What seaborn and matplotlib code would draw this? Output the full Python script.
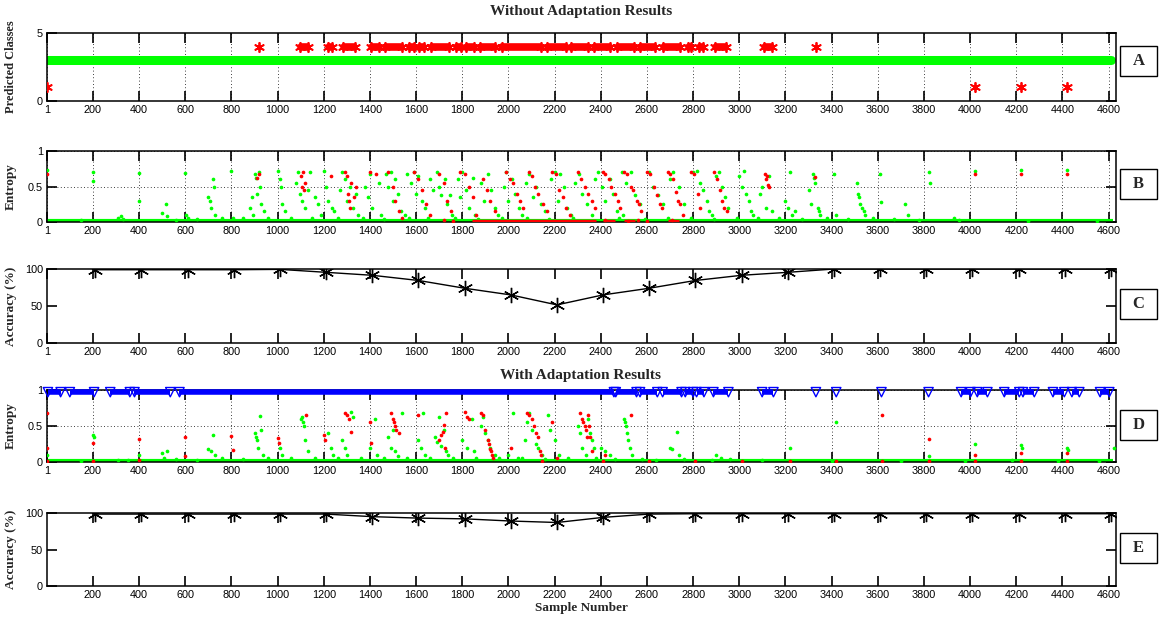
import numpy as np
import pandas as pd
import matplotlib
matplotlib.use('Agg')
import matplotlib.pyplot as plt
from matplotlib.patches import Rectangle
import seaborn as sns

sns.set_style('ticks')
plt.rcParams['font.family'] = ['Liberation Sans', 'DejaVu Sans']

GREEN = '#00ff00'
RED = '#ff0000'
BLUE = '#0000ff'
SERIF = ['Liberation Serif', 'DejaVu Serif']

# --- x axis ticks ---
xticks_top = [1, 200, 400, 600, 800, 1000, 1200, 1400, 1600, 1800, 2000, 2200, 2400,
              2600, 2800, 3000, 3200, 3400, 3600, 3800, 4000, 4200, 4400, 4600]
xticks_e = xticks_top[1:]

# --- A: predicted classes (runs = consecutive samples) ---
a_green_runs = [(1, 4612)]          # class 3
a_red_runs = [(1091, 1139), (1211, 1244), (1274, 1344), (1397, 1447), (1457, 1547),
              (1563, 1601), (1606, 1643), (1656, 1751), (1763, 1801), (1809, 1859),
              (1867, 1951), (1962, 2150), (2158, 2258), (2263, 2351), (2364, 2449),
              (2462, 2551), (2563, 2644), (2660, 2750), (2771, 2798), (2818, 2850),
              (2885, 2950), (3098, 3148)]   # class 4
a_red_single_x = [920, 3332, 1, 4020, 4220, 4420]
a_red_single_y = [4, 4, 1, 1, 1, 1]

# --- B: entropy without adaptation ---
b_green_x = [1, 200, 200, 310, 320, 400, 400, 500, 515, 520, 600, 605, 610,
             700, 705, 720, 725, 710, 730, 800, 805,
             880, 890, 900, 905, 910, 920, 925, 930, 940, 895,
             1000, 1010, 1015, 1020, 1030,
             1080, 1090, 1095, 1105, 1120, 1130, 1140,
             1160, 1175, 1190, 1200, 1210, 1220, 1235, 1245,
             1270, 1280, 1290, 1300, 1315, 1325, 1340, 1350,
             1380, 1390, 1400, 1410, 1440, 1450,
             1470, 1480, 1490, 1500, 1510, 1520, 1535, 1550, 1560,
             1580, 1590, 1600, 1610, 1625, 1640, 1660, 1675,
             1690, 1700, 1710, 1725, 1735, 1745, 1755,
             1780, 1790, 1800, 1815, 1830, 1845, 1855,
             1880, 1895, 1910, 1925, 1940, 1955,
             1980, 1990, 2000, 2015, 2030, 2045, 2060, 2075,
             2090, 2105, 2120, 2140, 2160,
             2185, 2200, 2215, 2225, 2240, 2255, 2270,
             2290, 2305, 2320, 2340, 2360, 2375,
             2390, 2405, 2420, 2440, 2455, 2470, 2490, 2495,
             2510, 2530, 2550, 2570, 2610, 2625, 2650, 2670,
             2700, 2715, 2740, 2760,
             2800, 2815, 2830, 2845, 2860, 2870, 2880,
             2900, 2910, 2925, 2940, 2950,
             3000, 3010, 3020, 3030, 3040, 3050, 3060,
             3090, 3100, 3115, 3130, 3140,
             3200, 3210, 3220, 3230, 3240,
             3300, 3310, 3320, 3325, 3330, 3340, 3345, 3350,
             3410, 3420, 3510, 3515, 3520, 3525, 3530, 3540, 3545,
             3610, 3615, 3720, 3730, 3820, 3825, 3930, 4020, 4220, 4420,
             150, 330, 560, 650, 760, 850, 960, 1060, 1150, 1260, 1370, 1460, 1570,
             1650, 1770, 1870, 1970, 2080, 2175, 2280, 2480, 2590, 2690, 2790, 2890,
             2990, 3080, 3170, 3270, 3380, 3470, 3580, 3670, 3780, 3950, 4250, 4550]
b_green_y = [0.73, 0.70, 0.58, 0.06, 0.08, 0.69, 0.29, 0.12, 0.25, 0.08, 0.69, 0.10, 0.05,
             0.35, 0.30, 0.60, 0.50, 0.20, 0.10, 0.72, 0.05,
             0.20, 0.35, 0.67, 0.62, 0.40, 0.70, 0.50, 0.25, 0.15, 0.10,
             0.72, 0.60, 0.50, 0.25, 0.15,
             0.55, 0.70, 0.40, 0.30, 0.20, 0.45, 0.70,
             0.35, 0.25, 0.10, 0.72, 0.50, 0.30, 0.20, 0.15,
             0.45, 0.70, 0.60, 0.30, 0.50, 0.20, 0.40, 0.10,
             0.50, 0.35, 0.68, 0.20, 0.55, 0.10,
             0.68, 0.50, 0.70, 0.30, 0.60, 0.40, 0.15, 0.10, 0.68,
             0.55, 0.70, 0.40, 0.65, 0.30, 0.20, 0.60, 0.45,
             0.70, 0.50, 0.38, 0.60, 0.25, 0.38, 0.10,
             0.60, 0.35, 0.70, 0.45, 0.20, 0.62, 0.10,
             0.55, 0.30, 0.68, 0.45, 0.20, 0.10,
             0.50, 0.70, 0.30, 0.60, 0.40, 0.20, 0.10, 0.55,
             0.68, 0.35, 0.50, 0.25, 0.15,
             0.60, 0.70, 0.30, 0.68, 0.50, 0.20, 0.10,
             0.55, 0.68, 0.40, 0.25, 0.10, 0.60,
             0.70, 0.50, 0.30, 0.60, 0.40, 0.15, 0.70, 0.10,
             0.55, 0.70, 0.38, 0.25, 0.70, 0.50, 0.38, 0.25,
             0.60, 0.70, 0.50, 0.25,
             0.70, 0.72, 0.55, 0.45, 0.30, 0.15, 0.10,
             0.65, 0.70, 0.50, 0.35, 0.20,
             0.65, 0.50, 0.72, 0.40, 0.30, 0.15, 0.10,
             0.40, 0.50, 0.20, 0.65, 0.15,
             0.30, 0.20, 0.70, 0.10, 0.15,
             0.45, 0.25, 0.68, 0.62, 0.55, 0.20, 0.15, 0.10,
             0.68, 0.10, 0.55, 0.40, 0.35, 0.25, 0.20, 0.15, 0.10,
             0.68, 0.28, 0.25, 0.10, 0.70, 0.55, 0.05, 0.72, 0.73, 0.73,
             0.03, 0.04, 0.03, 0.04, 0.05, 0.05, 0.06, 0.05, 0.06, 0.05, 0.06, 0.04, 0.05,
             0.06, 0.05, 0.04, 0.05, 0.06, 0.04, 0.05, 0.05, 0.04, 0.06, 0.05, 0.04,
             0.05, 0.06, 0.05, 0.04, 0.06, 0.04, 0.05, 0.04, 0.03, 0.03, 0.02, 0.02]
b_red_x = [1, 910, 920, 1100, 1105, 1110, 1115, 1120, 1230,
           1290, 1300, 1305, 1310, 1315, 1320, 1330, 1340, 1400, 1425,
           1480, 1500, 1510, 1525, 1540, 1590, 1610, 1625, 1645, 1660,
           1700, 1720, 1735, 1750, 1790, 1810, 1830, 1845, 1860,
           1890, 1905, 1920, 1940, 1990, 2005, 2020, 2035, 2050, 2065,
           2090, 2100, 2115, 2130, 2150, 2165, 2190, 2205, 2220, 2235, 2250, 2265,
           2300, 2315, 2330, 2345, 2360, 2375, 2410, 2420, 2435, 2445, 2460, 2475, 2485,
           2500, 2515, 2530, 2540, 2555, 2565, 2575, 2600, 2615, 2630, 2645, 2655, 2665,
           2690, 2700, 2715, 2725, 2735, 2745, 2755, 2790, 2805, 2820, 2830,
           2890, 2905, 2915, 2925, 2935, 2945, 3110, 3115, 3120, 3125, 3130,
           3330, 4020, 4220, 4420, 1720, 1760, 2420, 2520, 2560, 2600, 2710]
b_red_y = [0.68, 0.62, 0.67, 0.65, 0.50, 0.70, 0.45, 0.55, 0.65,
           0.70, 0.65, 0.40, 0.30, 0.20, 0.55, 0.35, 0.50, 0.70, 0.68,
           0.70, 0.50, 0.30, 0.15, 0.05, 0.70, 0.60, 0.45, 0.25, 0.10,
           0.68, 0.55, 0.30, 0.15, 0.70, 0.68, 0.50, 0.35, 0.10,
           0.60, 0.45, 0.30, 0.15, 0.70, 0.60, 0.55, 0.40, 0.30, 0.20,
           0.70, 0.65, 0.50, 0.40, 0.25, 0.15, 0.70, 0.68, 0.45, 0.35, 0.20, 0.10,
           0.70, 0.60, 0.50, 0.40, 0.30, 0.20, 0.70, 0.68, 0.60, 0.50, 0.40, 0.30, 0.20,
           0.70, 0.68, 0.50, 0.45, 0.30, 0.25, 0.15, 0.70, 0.68, 0.50, 0.38, 0.25, 0.20,
           0.70, 0.68, 0.60, 0.42, 0.30, 0.25, 0.10, 0.70, 0.68, 0.40, 0.20,
           0.70, 0.60, 0.45, 0.30, 0.20, 0.15, 0.68, 0.60, 0.65, 0.52, 0.50,
           0.63, 0.68, 0.68, 0.68, 0.03, 0.02, 0.03, 0.02, 0.03, 0.02, 0.03]
b_red_runs = [(1840, 2380), (2410, 2460), (2500, 2550), (2690, 2740)]

# --- accuracy (%) every 200 samples ---
acc_x = [210, 410, 610, 810, 1010, 1210, 1410, 1610, 1810, 2010, 2210, 2410,
         2610, 2810, 3010, 3210, 3410, 3610, 3810, 4010, 4210, 4410, 4610]
acc_without = [99, 99, 99, 99, 99.5, 95.5, 91.5, 84.5, 74, 65, 51.5, 65,
               74, 84.5, 91.5, 95.5, 100, 100, 100, 100, 100, 100, 100]
acc_with = [98.5, 98.5, 98.5, 98.5, 98.5, 98.5, 95, 93, 92, 89, 87, 94,
            98.5, 99, 99, 99, 99, 99, 99, 99, 99, 99, 99]

# --- D: entropy with adaptation ---
d_blue_runs = [(5, 60), (100, 205), (275, 360), (380, 535), (575, 2457), (2465, 2555),
               (2570, 2645), (2668, 2750), (2766, 2800), (2815, 2847), (2888, 2953),
               (3099, 3148), (3961, 4002), (4031, 4075), (4148, 4213), (4229, 4278),
               (4359, 4408), (4441, 4473), (4563, 4603)]
d_blue_single_x = [3332, 3420, 3616, 3820]
d_green_x = [1, 200, 205, 310, 400, 500, 520, 510, 700, 710, 720, 730,
             900, 905, 910, 915, 925, 930, 935, 1010, 1020,
             1100, 1105, 1110, 1115, 1120, 1130, 1220, 1230, 1240,
             1280, 1290, 1300, 1320, 1325, 1400, 1420, 1430,
             1480, 1490, 1500, 1510, 1520, 1540, 1610, 1620, 1630, 1640,
             1680, 1690, 1700, 1710, 1720, 1730, 1740, 1800, 1820, 1840, 1850,
             1880, 1890, 1900, 1910, 1920, 1940, 2000, 2020, 2040,
             2070, 2080, 2090, 2100, 2120, 2130, 2145, 2170, 2180, 2200, 2220,
             2300, 2310, 2320, 2335, 2345, 2355, 2360, 2370, 2400, 2420, 2440,
             2500, 2505, 2510, 2515, 2520, 2525, 2535, 2700, 2710, 2730, 2740,
             2900, 2920, 3220, 3420, 3820, 4020, 4220, 4225, 4420, 4425, 4625,
             150, 350, 560, 650, 760, 850, 960, 1060, 1160, 1260, 1360, 1460, 1560,
             1660, 1760, 1860, 1960, 2060, 2160, 2260, 2380, 2460, 2580, 2640, 2760,
             2880, 2960, 3100, 3400, 3700, 3980, 4180, 4380, 4560]
d_green_y = [0.10, 0.38, 0.35, 0.03, 0.10, 0.12, 0.15, 0.05, 0.18, 0.15, 0.38, 0.10,
             0.40, 0.35, 0.30, 0.20, 0.64, 0.45, 0.10, 0.20, 0.10,
             0.60, 0.62, 0.55, 0.50, 0.30, 0.15, 0.40, 0.20, 0.10,
             0.30, 0.20, 0.10, 0.70, 0.62, 0.20, 0.60, 0.10,
             0.35, 0.20, 0.45, 0.15, 0.08, 0.68, 0.30, 0.20, 0.68, 0.10,
             0.35, 0.28, 0.62, 0.22, 0.45, 0.15, 0.10, 0.30, 0.20, 0.60, 0.15,
             0.50, 0.62, 0.40, 0.30, 0.20, 0.10, 0.10, 0.68, 0.05,
             0.30, 0.55, 0.68, 0.45, 0.25, 0.20, 0.10, 0.65, 0.45, 0.30, 0.10,
             0.50, 0.40, 0.20, 0.10, 0.60, 0.40, 0.30, 0.20, 0.20, 0.15, 0.10,
             0.60, 0.55, 0.50, 0.40, 0.30, 0.20, 0.10, 0.20, 0.18, 0.42, 0.10,
             0.10, 0.05, 0.20, 0.55, 0.08, 0.25, 0.23, 0.20, 0.20, 0.16, 0.20,
             0.02, 0.03, 0.04, 0.03, 0.05, 0.04, 0.05, 0.06, 0.05, 0.06, 0.05, 0.06, 0.05,
             0.06, 0.05, 0.06, 0.05, 0.06, 0.04, 0.05, 0.05, 0.04, 0.04, 0.03, 0.04,
             0.03, 0.04, 0.03, 0.02, 0.02, 0.02, 0.03, 0.02, 0.02]
d_red_x = [1, 1, 1, 200, 200, 400, 400, 600, 600, 800, 805, 1000, 1005, 1125,
           1200, 1205, 1290, 1300, 1310, 1320, 1400, 1405,
           1490, 1500, 1505, 1510, 1515, 1525, 1610,
           1700, 1710, 1715, 1720, 1725, 1730, 1810, 1820, 1830,
           1880, 1890, 1900, 1910, 1915, 1920, 1925, 1930, 1935, 2010,
           2080, 2090, 2100, 2110, 2120, 2130, 2135, 2140, 2145, 2190, 2210,
           2310, 2320, 2325, 2330, 2335, 2340, 2345, 2350, 2355, 2360, 2420, 2530,
           3620, 3820, 4020, 4220, 4420,
           2410, 2610, 2810, 3010, 3220, 3420, 3620, 3820, 4020, 4220, 4420]
d_red_y = [0.68, 0.20, 0.02, 0.27, 0.02, 0.32, 0.03, 0.35, 0.08, 0.36, 0.16, 0.33, 0.26, 0.65,
           0.38, 0.30, 0.68, 0.65, 0.60, 0.42, 0.55, 0.27,
           0.68, 0.60, 0.55, 0.50, 0.45, 0.40, 0.65,
           0.30, 0.37, 0.42, 0.52, 0.20, 0.68, 0.70, 0.62, 0.60,
           0.68, 0.65, 0.45, 0.30, 0.25, 0.18, 0.15, 0.10, 0.05, 0.20,
           0.68, 0.65, 0.60, 0.50, 0.40, 0.35, 0.15, 0.10, 0.02, 0.55, 0.05,
           0.68, 0.60, 0.55, 0.50, 0.45, 0.35, 0.65, 0.50, 0.35, 0.15, 0.10, 0.65,
           0.65, 0.32, 0.10, 0.12, 0.12,
           0.01, 0.01, 0.01, 0.01, 0.01, 0.01, 0.01, 0.01, 0.01, 0.01, 0.01]

ASTER = (6, 2, 0)
XMAX = 4632

# --- figure / axes layout (pixel positions of the reference) ---
fig = plt.figure(figsize=(11.66, 6.2), dpi=100)
def box(top, bot, left=47, right=1116):
    return [left / 1166, 1 - bot / 620, (right - left) / 1166, (bot - top) / 620]

ax_a = fig.add_axes(box(33, 101))
ax_b = fig.add_axes(box(151, 222))
ax_c = fig.add_axes(box(269, 343))
ax_d = fig.add_axes(box(390, 462))
ax_e = fig.add_axes(box(513, 586))

def style(ax, xticks, ylim, yticks, yticklabels, ylabel, grid_x=False, grid_y=False):
    ax.set_xlim(1, XMAX)
    ax.set_ylim(*ylim)
    ax.set_xticks(xticks)
    ax.set_xticklabels([str(t) for t in xticks])
    ax.set_yticks(yticks)
    ax.set_yticklabels(yticklabels)
    ax.xaxis.set_ticks_position('both')
    ax.yaxis.set_ticks_position('both')
    ax.tick_params(direction='in', length=7.5, width=1.2, labelsize=7.8, pad=3,
                   colors='black')
    for s in ax.spines.values():
        s.set_linewidth(1.1)
        s.set_color('black')
        s.set_visible(True)
    if grid_x:
        ax.grid(axis='x', ls=(0, (1, 3)), color='black', lw=0.6)
    if grid_y:
        ax.grid(axis='y', ls=(0, (1, 3)), color='black', lw=0.6)
    ax.set_xlabel('')
    ax.set_ylabel(ylabel, family=SERIF, fontweight='bold', fontsize=9.5, labelpad=3)

# A
for s, e in a_green_runs:
    ax_a.hlines(3, s, e, color=GREEN, lw=6.5, capstyle='round', zorder=2)
for s, e in a_red_runs:
    ax_a.hlines(4, s + 12, e - 12, color=RED, lw=5.5, capstyle='round', zorder=3)
run_ends = [r[0] + 8 for r in a_red_runs] + [r[1] - 8 for r in a_red_runs]
sns.scatterplot(x=run_ends + a_red_single_x, y=[4] * len(run_ends) + a_red_single_y,
                ax=ax_a, marker=ASTER, s=45, color=RED, edgecolor=RED, linewidth=1.3,
                legend=False, zorder=3)
style(ax_a, xticks_top, (0, 5), [0, 5], ['0', '5'], 'Predicted Classes', grid_x=True)
ax_a.yaxis.label.set_fontsize(9)

# B
ax_b.hlines(0.01, 1, 4620, color=GREEN, lw=3, zorder=2)
sns.scatterplot(x=b_green_x, y=b_green_y, ax=ax_b, color=GREEN, s=7, linewidth=0,
                legend=False, zorder=3)
for s, e in b_red_runs:
    ax_b.hlines(0.015, s, e, color=RED, lw=2.5, zorder=4)
sns.scatterplot(x=b_red_x, y=b_red_y, ax=ax_b, color=RED, s=7, linewidth=0,
                legend=False, zorder=4)
style(ax_b, xticks_top, (0, 1), [0, 0.5, 1], ['0', '0.5', '1'], 'Entropy',
      grid_x=True, grid_y=True)

# C
sns.lineplot(x=acc_x, y=acc_without, ax=ax_c, color='black', lw=1, marker=ASTER,
             markersize=11, markeredgewidth=1, markeredgecolor='black', zorder=3)
style(ax_c, xticks_top, (0, 100), [0, 50, 100], ['0', '50', '100'], 'Accuracy (%)')

# D
ax_d.hlines(0.01, 1, 4620, color=GREEN, lw=3, zorder=2)
sns.scatterplot(x=d_green_x, y=d_green_y, ax=ax_d, color=GREEN, s=7, linewidth=0,
                legend=False, zorder=3)
sns.scatterplot(x=d_red_x, y=d_red_y, ax=ax_d, color=RED, s=7, linewidth=0,
                legend=False, zorder=4)
for s, e in d_blue_runs:
    ax_d.hlines(0.975, s, e, color=BLUE, lw=4, zorder=5, clip_on=False)
sns.scatterplot(x=[r[0] for r in d_blue_runs] + [r[1] for r in d_blue_runs] + d_blue_single_x,
                y=[0.97] * (2 * len(d_blue_runs) + len(d_blue_single_x)),
                ax=ax_d, marker='v', s=45, facecolor='none', edgecolor=BLUE,
                linewidth=1, legend=False, zorder=5, clip_on=False)
style(ax_d, xticks_top, (0, 1), [0, 0.5, 1], ['0', '0.5', '1'], 'Entropy',
      grid_x=True, grid_y=True)

# E
sns.lineplot(x=acc_x, y=acc_with, ax=ax_e, color='black', lw=1, marker=ASTER,
             markersize=11, markeredgewidth=1, markeredgecolor='black', zorder=3)
style(ax_e, xticks_e, (0, 100), [0, 50, 100], ['0', '50', '100'], 'Accuracy (%)')
ax_e.set_xlabel('Sample Number', family=SERIF, fontweight='bold', fontsize=9.5, labelpad=1)

for ax in (ax_a, ax_b, ax_c, ax_d, ax_e):
    ax.yaxis.set_label_coords(-0.028, 0.5)

fig.text(581 / 1166, 1 - 12 / 620, 'Without Adaptation Results', ha='center', va='center',
         family=SERIF, fontweight='bold', fontsize=11)
fig.text(581 / 1166, 1 - 375 / 620, 'With Adaptation Results', ha='center', va='center',
         family=SERIF, fontweight='bold', fontsize=11)

# panel letter boxes on the right
for letter, yc in zip(['A', 'B', 'C', 'D', 'E'], [61, 184, 304, 425, 548]):
    fig.add_artist(Rectangle((1120 / 1166, 1 - (yc + 15) / 620), 37 / 1166, 30 / 620,
                             transform=fig.transFigure, fc='white', ec='black', lw=1))
    fig.text(1138.5 / 1166, 1 - yc / 620, letter, ha='center', va='center',
             family=SERIF, fontweight='bold', fontsize=12)

fig.savefig('out.png', dpi=100)
